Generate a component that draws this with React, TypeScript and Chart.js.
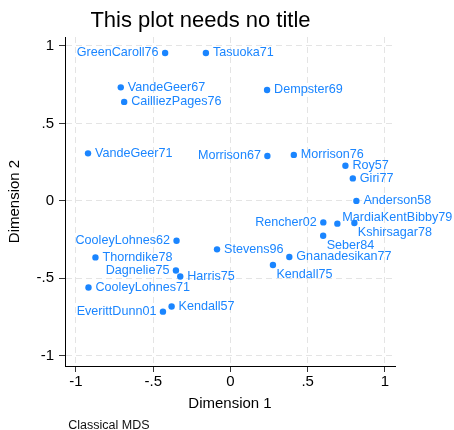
import React, { useEffect, useRef } from "react";
import { Chart, registerables } from "chart.js";

Chart.register(...registerables);

const names = [
  "GreenCaroll76", "Tasuoka71", "VandeGeer67", "CailliezPages76", "VandeGeer71",
  "Dempster69", "Morrison67", "Morrison76", "Roy57", "Giri77",
  "Anderson58", "Rencher02", "MardiaKentBibby79", "Kshirsagar78", "Seber84",
  "Gnanadesikan77", "Kendall75", "Stevens96", "CooleyLohnes62", "Thorndike78",
  "Dagnelie75", "Harris75", "CooleyLohnes71", "Kendall57", "EverittDunn01",
];
const dim1 = [
  -0.423, -0.159, -0.710, -0.688, -0.922,
  0.237, 0.239, 0.410, 0.744, 0.792,
  0.815, 0.601, 0.692, 0.802, 0.600,
  0.381, 0.275, -0.087, -0.349, -0.874,
  -0.353, -0.325, -0.919, -0.381, -0.437,
];
const dim2 = [
  0.955, 0.955, 0.733, 0.639, 0.307,
  0.716, 0.290, 0.297, 0.227, 0.145,
  0.0, -0.139, -0.147, -0.143, -0.225,
  -0.362, -0.414, -0.313, -0.257, -0.365,
  -0.449, -0.488, -0.559, -0.682, -0.715,
];
// marker-label clock positions
const labelClock = [
  9, 3, 3, 3, 3,
  3, 9, 3, 3, 3,
  3, 9, 2, 4, 4,
  3, 4, 3, 9, 3,
  9, 3, 3, 3, 9,
];
const xTickValues = [-1, -0.5, 0, 0.5, 1];
const xTickLabels = ["-1", "-.5", "0", ".5", "1"];
const yTickValues = [-1, -0.5, 0, 0.5, 1];
const yTickLabels = ["-1", "-.5", "0", ".5", "1"];

const titleText = "This plot needs no title";
const xTitle = "Dimension 1";
const yTitle = "Dimension 2";
const noteText = "Classical MDS";

const FONT = "'Liberation Sans', Arial, sans-serif";
const BLUE = "#1a85ff";

const labelsPlugin = {
  id: "mdsLabels",
  afterDatasetsDraw(chart: any) {
    const ctx = chart.ctx;
    const meta = chart.getDatasetMeta(0);
    ctx.save();
    ctx.font = `12.6px ${FONT}`;
    ctx.fillStyle = BLUE;
    ctx.textBaseline = "middle";
    meta.data.forEach((pt: any, i: number) => {
      const c = labelClock[i];
      let x = pt.x;
      let y = pt.y;
      let align: CanvasTextAlign = "left";
      if (c === 3) { x += 7; }
      else if (c === 9) { x -= 6.5; align = "right"; }
      else if (c === 2) { x += 5; y -= 6.5; }
      else if (c === 4) { x += 3.5; y += 9.5; }
      ctx.textAlign = align;
      ctx.fillText(names[i], x, y);
    });
    ctx.restore();
  },
  afterDraw(chart: any) {
    const ctx = chart.ctx;
    ctx.save();
    ctx.fillStyle = "#000";
    ctx.textBaseline = "alphabetic";
    ctx.textAlign = "center";
    ctx.font = `22px ${FONT}`;
    ctx.fillText(titleText, 200.5, 26.7);
    ctx.textAlign = "left";
    ctx.font = `12.5px ${FONT}`;
    ctx.fillStyle = "#111";
    ctx.fillText(noteText, 68.3, 428.5);
    ctx.restore();
  },
};

export default function App() {
  const ref = useRef<HTMLCanvasElement>(null);
  useEffect(() => {
    document.body.style.margin = "0";
    const canvas = ref.current;
    if (!canvas) return;
    const points = dim1.map((x, i) => ({ x, y: dim2[i] }));
    const gridCommon = {
      color: "#e4e4e4",
      lineWidth: 1,
      tickColor: "#333",
      tickLength: 6,
      tickBorderDash: [],
      tickWidth: 1,
    };
    const borderCommon = { display: true, color: "#000", width: 1, dash: [6, 4] };
    const chart = new Chart(canvas, {
      type: "scatter",
      data: {
        datasets: [
          {
            data: points,
            pointRadius: 3.2,
            pointHoverRadius: 3.2,
            pointBackgroundColor: BLUE,
            pointBorderWidth: 0,
            borderColor: BLUE,
          },
        ],
      },
      options: {
        responsive: false,
        animation: false,
        devicePixelRatio: 1,
        layout: { padding: { top: 37, right: 59, bottom: 0, left: 0 } },
        plugins: {
          legend: { display: false },
          tooltip: { enabled: false },
          title: { display: false },
        },
        scales: {
          x: {
            type: "linear",
            position: "bottom",
            min: -1.071,
            max: 1.065,
            afterBuildTicks: (s: any) => {
              s.ticks = xTickValues.map((v) => ({ value: v }));
            },
            afterFit: (s: any) => {
              s.height = 64;
            },
            ticks: {
              callback: (_v: any, i: number) => xTickLabels[i],
              font: { family: FONT, size: 15 },
              color: "#000",
              padding: 1,
              maxRotation: 0,
              autoSkip: false,
            },
            grid: gridCommon as any,
            border: borderCommon as any,
            title: {
              display: true,
              text: xTitle,
              font: { family: FONT, size: 15 },
              color: "#000",
              padding: { top: 0, bottom: 17.5 },
            },
          },
          y: {
            type: "linear",
            position: "left",
            min: -1.066,
            max: 1.058,
            afterBuildTicks: (s: any) => {
              s.ticks = yTickValues.map((v) => ({ value: v }));
            },
            afterFit: (s: any) => {
              s.width = 65;
            },
            ticks: {
              callback: (_v: any, i: number) => yTickLabels[i],
              font: { family: FONT, size: 15 },
              color: "#000",
              padding: 5,
              autoSkip: false,
            },
            grid: gridCommon as any,
            border: borderCommon as any,
            title: {
              display: true,
              text: yTitle,
              font: { family: FONT, size: 15 },
              color: "#000",
              padding: { top: 6, bottom: 0 },
            },
          },
        },
      },
      plugins: [labelsPlugin],
    });
    return () => chart.destroy();
  }, []);
  return (
    <div style={{ width: 454, height: 430, background: "#fff" }}>
      <canvas ref={ref} width={454} height={430} style={{ display: "block" }} />
    </div>
  );
}
